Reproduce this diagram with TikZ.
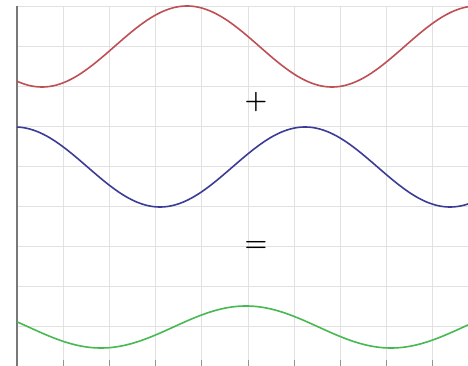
\documentclass[tikz,border=0pt]{standalone}
\definecolor{gridc}{RGB}{225,225,225}
\definecolor{axisc}{RGB}{120,120,120}
\definecolor{redw}{RGB}{190,80,85}
\definecolor{bluew}{RGB}{60,60,150}
\definecolor{greenw}{RGB}{70,185,80}
\tikzset{
  gridline/.style={draw=gridc, line width=0.8pt},
  axisline/.style={draw=axisc, line width=1.2pt},
  tickline/.style={draw=axisc!80, line width=0.8pt},
  wave/.style={line width=1.6pt, samples=300, domain=17:468, smooth},
  sign/.style={font=\fontsize{26}{26}\selectfont\bfseries, inner sep=0pt}
}
\begin{document}
\begin{tikzpicture}[x=1pt,y=-1pt]
\useasboundingbox (0,0) rectangle (468,366);
\fill[white] (0,0) rectangle (468,366);
% grid
\foreach \k in {0,...,9} {
  \draw[gridline] (17,{6+40*\k}) -- (468,{6+40*\k});
}
\foreach \k in {1,...,9} {
  \draw[gridline] ({17+46.2*\k},6) -- ({17+46.2*\k},366);
  \draw[tickline] ({17+46.2*\k},360) -- ({17+46.2*\k},366);
}
\draw[axisline] (17,6) -- (17,366);
% waves
\draw[wave, draw=redw] plot (\x, {46.5+40.5*cos((\x-42)*1.24138)});
\draw[wave, draw=bluew] plot (\x, {167+40*cos((\x-160)*1.24138)});
\draw[wave, draw=greenw] plot (\x, {327+21*cos((\x-101)*1.24138)});
% signs
\node[sign] (plus) at (256,102) {+};
\node[sign] (equals) at (256,246) {=};
\end{tikzpicture}
\end{document}
